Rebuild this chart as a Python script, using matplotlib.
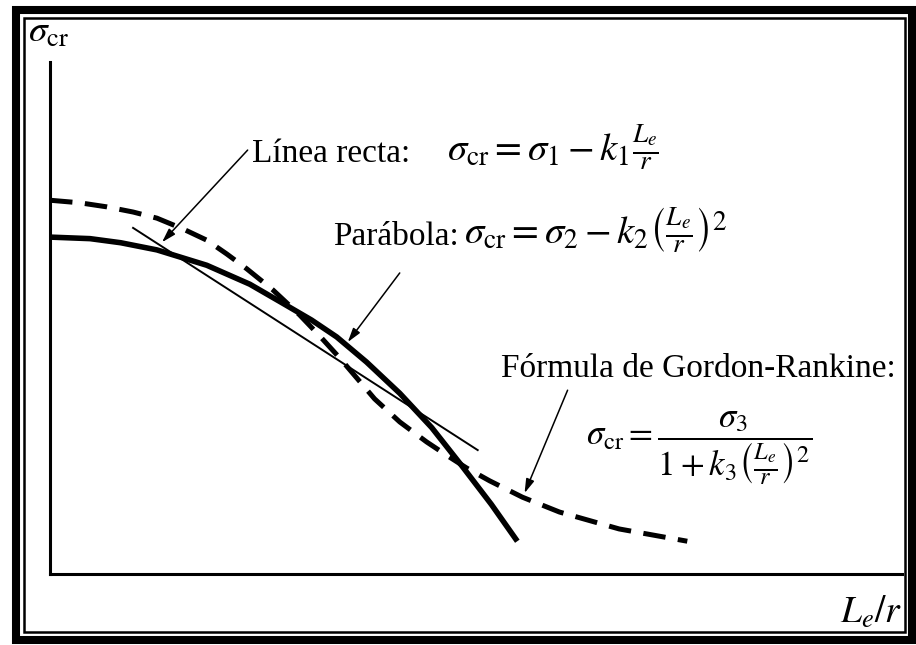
"""Column-buckling design curves: straight line, parabola and Gordon-Rankine."""

import matplotlib

matplotlib.use("Agg")
import matplotlib.pyplot as plt  # noqa: E402
from matplotlib.patches import Rectangle  # noqa: E402

plt.rcParams["font.family"] = ["Liberation Serif", "DejaVu Serif"]
plt.rcParams["mathtext.fontset"] = "stix"

# slenderness L_e/r (arbitrary units) and critical stress for each curve
PARABOLA_X = [0, 9.4, 16.6, 25.1, 36.8, 46.9, 54.6, 61.4, 67.3, 74.3, 82.1,
              89.6, 96.8, 103.6, 109.7]
PARABOLA_Y = [65.8, 65.5, 64.7, 63.3, 60.3, 56.6, 52.9, 49.6, 46.3, 41.4, 35.3,
              28.6, 21.0, 13.6, 6.4]

RANKINE_X = [0, 7.0, 13.4, 19.5, 25.1, 31.2, 36.8, 41.5, 46.2, 52.3, 58.6, 63.3,
             68.0, 72.0, 76.2, 82.1, 88.4, 93.1, 97.8, 103.2, 110.9, 119.6,
             133.6, 149.6]
RANKINE_Y = [73.0, 72.5, 71.7, 70.7, 69.5, 67.4, 65.2, 62.5, 59.6, 55.5, 50.6,
             46.5, 42.2, 38.3, 34.2, 29.7, 25.8, 23.2, 20.7, 18.2, 15.0, 12.1,
             8.8, 6.4]

LINE_X = [19.5, 100.4]
LINE_Y = [67.6, 24.2]

F_LINE = r"$\sigma_{\mathrm{cr}} = \sigma_1 - k_1\frac{L_e}{r}$"
F_PARAB = r"$\sigma_{\mathrm{cr}} = \sigma_2 - k_2\left(\frac{L_e}{r}\right)^2$"
F_RANK = (r"$\sigma_{\mathrm{cr}} = "
          r"\dfrac{\sigma_3}{1 + k_3\left(\frac{L_e}{r}\right)^2}$")

fig = plt.figure(figsize=(9.16, 6.45), dpi=100)
W, H = 916, 645


def frame(x0, y0, x1, y1, lw):
    fig.patches.append(Rectangle((x0 / W, 1 - y1 / H), (x1 - x0) / W,
                                 (y1 - y0) / H, transform=fig.transFigure,
                                 fill=False, lw=lw, ec="black"))


# double border round the figure
frame(16, 10, 912, 640, 5.8)
frame(23.5, 18, 905, 632, 1.8)

ax = fig.add_axes([50 / W, 1 - 574 / H, (902 - 50) / W, (574 - 62) / H])
ax.set_xlim(0, 200)
ax.set_ylim(0, 100)
ax.set_xticks([])
ax.set_yticks([])
for s in ("top", "right"):
    ax.spines[s].set_visible(False)
for s in ("left", "bottom"):
    ax.spines[s].set_linewidth(2.2)
ax.patch.set_alpha(0)

ax.plot(PARABOLA_X, PARABOLA_Y, color="black", lw=4.0, solid_capstyle="butt")
ax.plot(RANKINE_X, RANKINE_Y, color="black", lw=3.6, dashes=(4.5, 2.5),
        dash_capstyle="butt")
ax.plot(LINE_X, LINE_Y, color="black", lw=1.4)

fs = 24
ax.text(47.4, 80.5, "Línea recta:", fontsize=fs, va="baseline")
ax.text(93.3, 80.5, F_LINE, fontsize=28, va="baseline")
ax.text(66.4, 64.3, "Parábola:", fontsize=fs, va="baseline")
ax.text(97.3, 64.3, F_PARAB, fontsize=28, va="baseline")
ax.text(198.5, 38.5, "Fórmula de Gordon-Rankine:", fontsize=fs,
        va="baseline", ha="right")
ax.text(125.9, 24.6, F_RANK, fontsize=25, va="center")

arrow = dict(arrowstyle="-|>,head_length=0.6,head_width=0.18", color="black",
             lw=1.1, mutation_scale=14, shrinkA=0, shrinkB=0)
ax.annotate("", xy=(26.3, 64.8), xytext=(46.4, 82.8), arrowprops=arrow)
ax.annotate("", xy=(69.9, 45.3), xytext=(82.1, 58.8), arrowprops=arrow)
ax.annotate("", xy=(111.4, 15.8), xytext=(121.5, 35.9), arrowprops=arrow)

# axis names
ax.text(-0.026, 1.039, r"$\sigma_{\mathrm{cr}}$", transform=ax.transAxes,
        fontsize=27, va="baseline", clip_on=False)
ax.text(1.0, -0.096, r"$L_e/r$", transform=ax.transAxes, fontsize=27,
        va="baseline", ha="right", clip_on=False)

fig.savefig("out.png", dpi=100)
